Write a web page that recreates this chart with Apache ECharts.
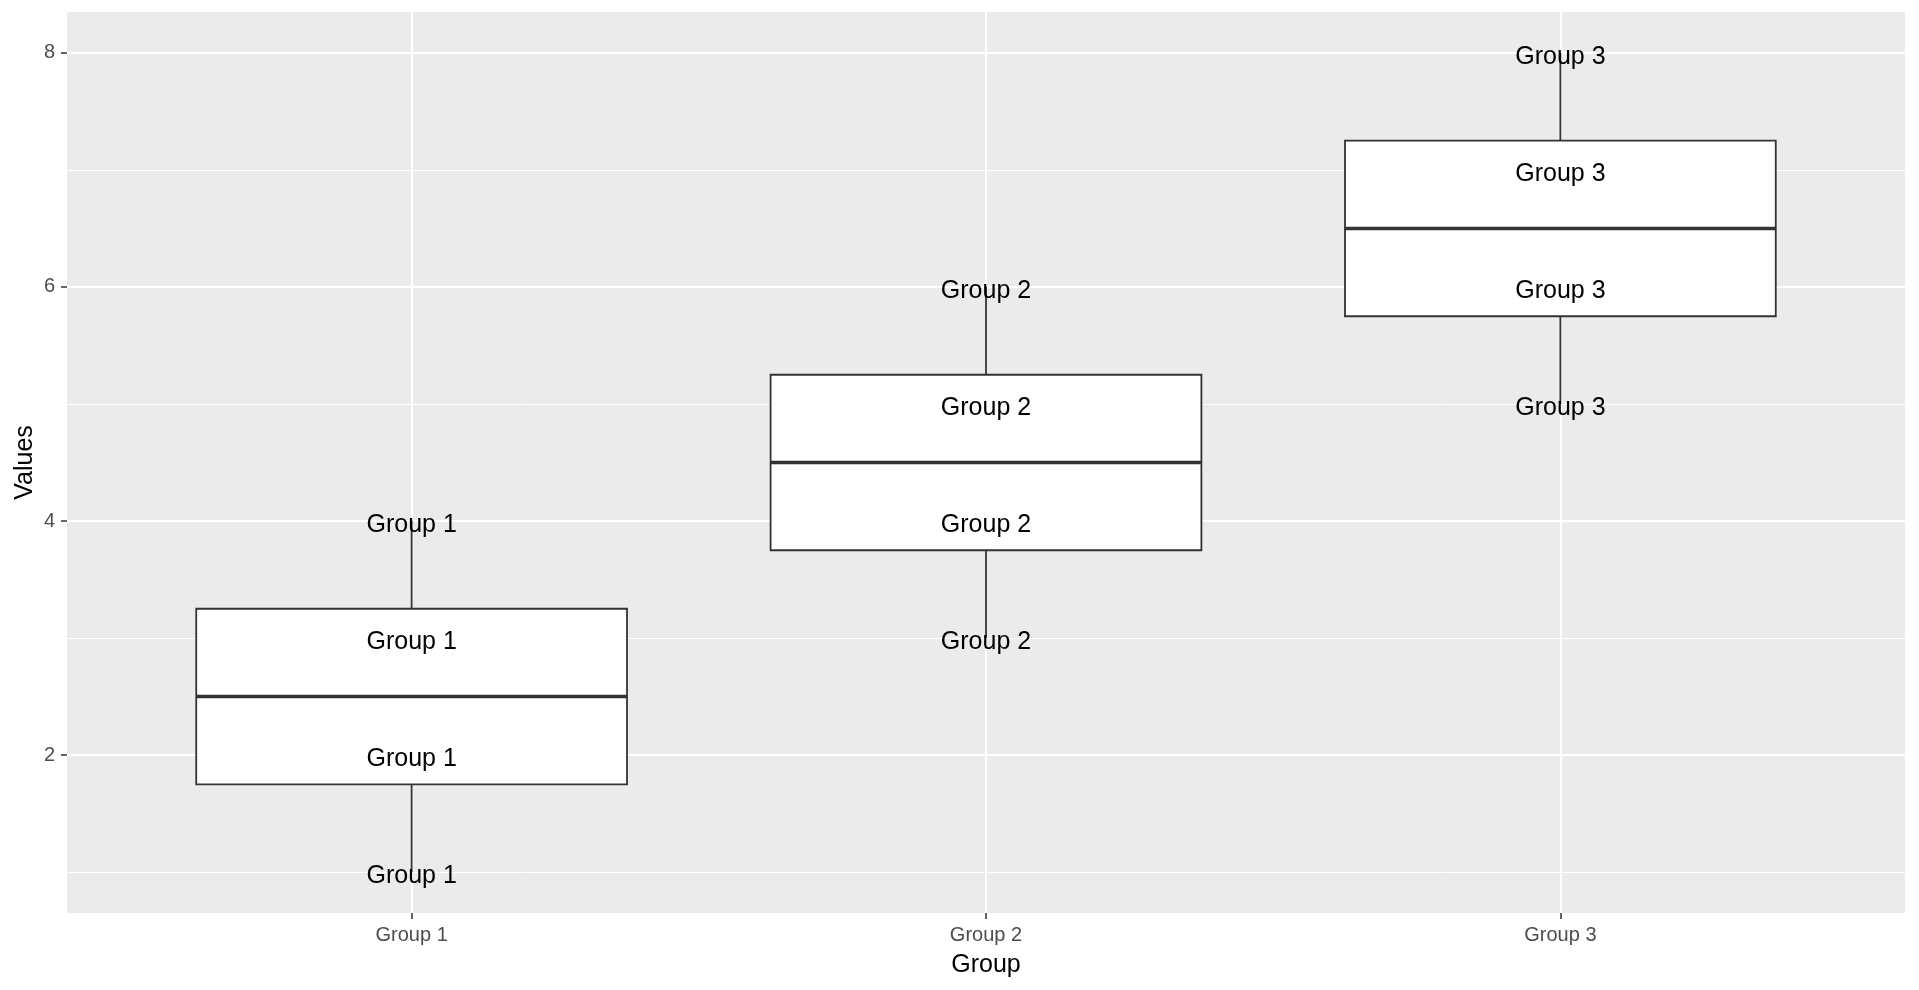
<!DOCTYPE html>
<html>
<head>
<meta charset="utf-8">
<script src="https://cdn.jsdelivr.net/npm/echarts@6/dist/echarts.min.js"></script>
<style>
  html, body { margin: 0; padding: 0; background: #fff; }
  #chart { width: 1919px; height: 990px; }
</style>
</head>
<body>
<div id="chart"></div>
<script>
// groups and the raw points of each group
const groups = ['Group 1', 'Group 2', 'Group 3'];
const group1 = [1, 2, 3, 4];
const group2 = [3, 4, 5, 6];
const group3 = [5, 6, 7, 8];
const yMajor = [2, 4, 6, 8];
const yMinor = [1, 3, 5, 7];

const FONT = '"Liberation Sans", Arial, sans-serif';

// R type 7 quantile, as geom_boxplot uses
function quantile(arr, p) {
    const s = arr.slice().sort((a, b) => a - b);
    const h = (s.length - 1) * p;
    const lo = Math.floor(h);
    return s[lo] + (h - lo) * ((s[lo + 1] !== undefined ? s[lo + 1] : s[lo]) - s[lo]);
}

const allGroups = [group1, group2, group3];
const boxData = allGroups.map((vals, i) => [
    i + 1,
    Math.min(...vals),
    quantile(vals, 0.25),
    quantile(vals, 0.5),
    quantile(vals, 0.75),
    Math.max(...vals)
]);
const pointData = [];
allGroups.forEach((vals, i) => vals.forEach(v => pointData.push([i + 1, v, groups[i]])));

const chart = echarts.init(document.getElementById('chart'));

const option = {
    animation: false,
    backgroundColor: '#ffffff',
    grid: {
        left: 67, right: 14, top: 12, bottom: 77,
        show: true, backgroundColor: '#EBEBEB', borderWidth: 0
    },
    xAxis: {
        type: 'value',
        min: 0.4, max: 3.6,
        name: 'Group',
        nameLocation: 'middle',
        nameGap: 40,
        nameMoveOverlap: false,
        nameTextStyle: { color: '#000', fontSize: 25, fontFamily: FONT },
        axisLine: { show: false },
        axisTick: { show: true, customValues: [1, 2, 3], length: 6, lineStyle: { color: '#333333', width: 1.5 } },
        axisLabel: {
            customValues: [1, 2, 3], margin: 12,
            color: '#4D4D4D', fontSize: 20, fontFamily: FONT,
            formatter: v => groups[Math.round(v) - 1]
        },
        splitLine: { show: true, lineStyle: { color: '#ffffff', width: 2 } }
    },
    yAxis: [{
        type: 'value',
        min: 0.65, max: 8.35,
        name: 'Values',
        nameLocation: 'middle',
        nameGap: 29,
        nameMoveOverlap: false,
        nameTextStyle: { color: '#000', fontSize: 25, fontFamily: FONT },
        axisLine: { show: false },
        axisTick: { show: true, customValues: yMajor, length: 6, lineStyle: { color: '#333333', width: 1.5 } },
        axisLabel: { customValues: yMajor, margin: 12, color: '#4D4D4D', fontSize: 20, fontFamily: FONT },
        splitLine: { show: true, lineStyle: { color: '#ffffff', width: 2 } }
    }, {
        type: 'value',
        min: 0.65, max: 8.35,
        position: 'left',
        axisLine: { show: false },
        axisTick: { show: false, customValues: yMinor },
        axisLabel: { show: false, customValues: yMinor },
        splitLine: { show: true, lineStyle: { color: '#ffffff', width: 1 } }
    }],
    series: [{
        type: 'custom',
        data: boxData,
        encode: { x: 0, y: [1, 2, 3, 4, 5] },
        renderItem: (params, api) => {
            const x = api.value(0);
            const half = api.size([0.375, 0])[0];
            const pMin = api.coord([x, api.value(1)]);
            const pQ1 = api.coord([x, api.value(2)]);
            const pMed = api.coord([x, api.value(3)]);
            const pQ3 = api.coord([x, api.value(4)]);
            const pMax = api.coord([x, api.value(5)]);
            const stroke = { stroke: '#333333', lineWidth: 1.8, fill: null };
            return {
                type: 'group',
                children: [
                    { type: 'line', shape: { x1: pMax[0], y1: pMax[1], x2: pQ3[0], y2: pQ3[1] }, style: stroke },
                    { type: 'line', shape: { x1: pQ1[0], y1: pQ1[1], x2: pMin[0], y2: pMin[1] }, style: stroke },
                    {
                        type: 'rect',
                        shape: { x: pQ3[0] - half, y: pQ3[1], width: half * 2, height: pQ1[1] - pQ3[1] },
                        style: { fill: '#ffffff', stroke: '#333333', lineWidth: 1.8 }
                    },
                    { type: 'line', shape: { x1: pMed[0] - half, y1: pMed[1], x2: pMed[0] + half, y2: pMed[1] },
                      style: { stroke: '#333333', lineWidth: 3.4 } }
                ]
            };
        }
    }, {
        type: 'custom',
        data: pointData,
        encode: { x: 0, y: 1 },
        renderItem: (params, api) => {
            const p = api.coord([api.value(0), api.value(1)]);
            return {
                type: 'text',
                x: p[0], y: p[1] + 4,
                style: {
                    text: pointData[params.dataIndex][2],
                    fill: '#000000', fontSize: 25, fontFamily: FONT,
                    align: 'center', verticalAlign: 'middle'
                }
            };
        }
    }]
};

chart.setOption(option);
</script>
</body>
</html>
